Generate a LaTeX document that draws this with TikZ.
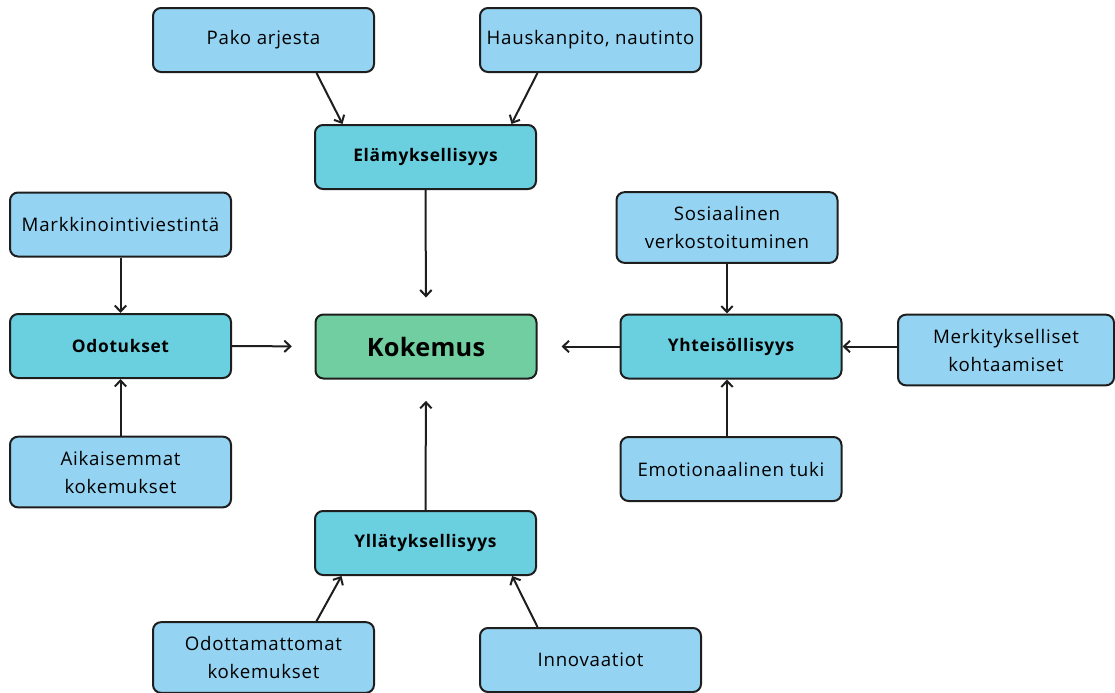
\documentclass[tikz,border=0pt]{standalone}
\usepackage{fontspec}
\setmainfont{Open Sans}[LetterSpace=4]
\usetikzlibrary{arrows.meta}
\definecolor{lightbox}{HTML}{94D3F1}
\definecolor{midbox}{HTML}{6ACFDF}
\definecolor{greenbox}{HTML}{70CEA0}
\definecolor{edge}{HTML}{1E1E1E}
\tikzset{
  box/.style={draw=edge, line width=1.5pt, rounded corners=6pt, fill=lightbox,
    minimum width=165.75pt, minimum height=48pt, align=center, inner sep=2pt,
    font=\fontsize{14}{21}\selectfont},
  boxtall/.style={box, minimum height=53pt},
  hub/.style={box, fill=midbox, font=\fontsize{13}{17}\selectfont\bfseries},
  core/.style={box, fill=greenbox, font=\fontsize{19}{22}\selectfont\bfseries\addfontfeatures{LetterSpace=1}},
  conn/.style={draw=edge, line width=1.5pt, -{Straight Barb[length=1.6mm,width=3mm]}}
}
\begin{document}
\begin{tikzpicture}[x=0.75pt, y=-0.75pt]
\useasboundingbox (0,0) rectangle (1115,693);
% top
\node[box] (pako) at (263.5,40) {Pako arjesta};
\node[box] (haus) at (590.5,40) {Hauskanpito, nautinto};
\node[hub] (elam) at (425.5,157) {Elämyksellisyys};
% left
\node[box] (markk) at (120.5,224.5) {Markkinointiviestintä};
\node[hub] (odot) at (120.5,346) {Odotukset};
\node[boxtall] (aik) at (120.5,472) {Aikaisemmat\\kokemukset};
% center
\node[core] (kok) at (426,346.5) {Kokemus};
% right
\node[boxtall] (sos) at (727,227.5) {Sosiaalinen\\verkostoituminen};
\node[hub] (yht) at (731,346.5) {Yhteisöllisyys};
\node[boxtall, minimum width=162pt] (merk) at (1006,350) {Merkitykselliset\\kohtaamiset};
\node[box] (emo) at (731,469) {Emotionaalinen tuki};
% bottom
\node[hub] (yll) at (425.5,543) {Yllätyksellisyys};
\node[boxtall] (odott) at (263.5,657.5) {Odottamattomat\\kokemukset};
\node[box] (inno) at (590.5,660) {Innovaatiot};
% connectors
\draw[conn] ([xshift=39.75pt]pako.south) -- ([xshift=-62.25pt]elam.north);
\draw[conn] ([xshift=-39.75pt]haus.south) -- ([xshift=64.5pt]elam.north);
\draw[conn, shorten >=12pt] (elam.south) -- (kok.north);
\draw[conn] (markk.south) -- (odot.north);
\draw[conn] (aik.north) -- (odot.south);
\draw[conn, shorten >=17pt] (odot.east) -- (kok.west);
\draw[conn, shorten >=18pt] (yht.west) -- (kok.east);
\draw[conn] (merk.west |- yht.east) -- (yht.east);
\draw[conn] (sos.south) -- (sos.south |- yht.north);
\draw[conn] (emo.north -| sos.south) -- (sos.south |- yht.south);
\draw[conn, shorten >=16pt] (yll.north) -- (kok.south);
\draw[conn] ([xshift=39.75pt]odott.north) -- ([xshift=-63pt]yll.south);
\draw[conn] ([xshift=-39.75pt]inno.north) -- ([xshift=65pt]yll.south);
\end{tikzpicture}
\end{document}
